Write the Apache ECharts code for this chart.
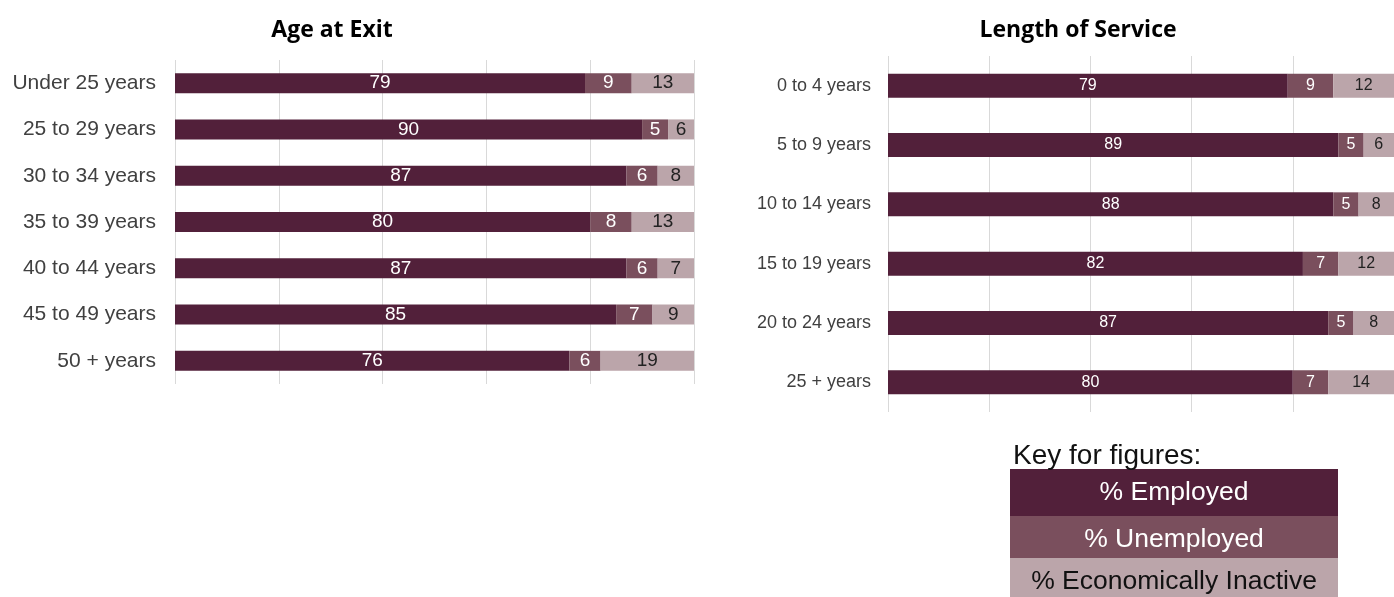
<!DOCTYPE html>
<html><head><meta charset="utf-8">
<script src="https://cdn.jsdelivr.net/npm/echarts@6/dist/echarts.min.js"></script>
<style>html,body{margin:0;padding:0;background:#fff}#c{width:1394px;height:597px}</style>
</head><body><div id="c"></div>
<script>
const ageCategories = ['Under 25 years','25 to 29 years','30 to 34 years','35 to 39 years','40 to 44 years','45 to 49 years','50 + years'];
const ageEmployed   = [79, 90, 87, 80, 87, 85, 76];
const ageUnemployed = [9, 5, 6, 8, 6, 7, 6];
const ageInactive   = [13, 6, 8, 13, 7, 9, 19];

const losCategories = ['0 to 4 years','5 to 9 years','10 to 14 years','15 to 19 years','20 to 24 years','25 + years'];
const losEmployed   = [79, 89, 88, 82, 87, 80];
const losUnemployed = [9, 5, 5, 7, 5, 7];
const losInactive   = [12, 6, 8, 12, 8, 14];

const seriesNames = ['% Employed','% Unemployed','% Economically Inactive'];
const colors = ['#52203A','#7A4F5D','#BBA5AA'];
const labelColors = ['#ffffff','#ffffff','#222222'];

const chart = echarts.init(document.getElementById('c'));

function mkSeries(data, idx, axisIdx, fs, bw) {
  return {
    name: seriesNames[idx], type: 'bar', stack: 's' + axisIdx,
    xAxisIndex: axisIdx, yAxisIndex: axisIdx,
    data: data, barWidth: bw, itemStyle: { color: colors[idx] },
    label: { show: true, position: 'inside', color: labelColors[idx],
      fontFamily: 'Liberation Sans', fontSize: fs },
    silent: true
  };
}

const legendItems = [];
const keyX = 1010, keyW = 328, rowY = [469, 516, 558], rowH = [47, 42, 42];
for (let i = 0; i < 3; i++) {
  legendItems.push({ type: 'rect', shape: { x: keyX, y: rowY[i], width: keyW, height: rowH[i] }, style: { fill: colors[i] } });
  legendItems.push({ type: 'text', x: keyX + keyW / 2, y: rowY[i] + 24, style: { text: seriesNames[i], fill: i < 2 ? '#fff' : '#111', font: '26.5px "Liberation Sans"', align: 'center', verticalAlign: 'middle' } });
}
legendItems.push({ type: 'text', x: 1013, y: 456, style: { text: 'Key for figures:', fill: '#111', font: '28px "Liberation Sans"', align: 'left', verticalAlign: 'middle' } });

chart.setOption({
  animation: false,
  title: [
    { text: 'Age at Exit', left: 327, top: 14, textAlign: 'center', textStyle: { fontFamily: 'Open Sans', fontWeight: 'bold', fontSize: 23, color: '#000' } },
    { text: 'Length of Service', left: 1073, top: 14, textAlign: 'center', textStyle: { fontFamily: 'Open Sans', fontWeight: 'bold', fontSize: 23, color: '#000' } }
  ],
  grid: [
    { left: 175, top: 60, width: 519, height: 324 },
    { left: 888, top: 56, width: 512, height: 356 }
  ],
  xAxis: [0, 1].map(i => ({
    type: 'value', gridIndex: i, min: 0, max: 100, interval: 20,
    axisLabel: { show: false }, axisTick: { show: false }, axisLine: { show: false },
    splitLine: { show: true, lineStyle: { color: '#D9D9D9', width: 1 } }
  })),
  yAxis: [
    { type: 'category', gridIndex: 0, data: ageCategories, inverse: true,
      axisLine: { show: false }, axisTick: { show: false },
      axisLabel: { margin: 19, color: '#404040', fontFamily: 'Liberation Sans', fontSize: 21 } },
    { type: 'category', gridIndex: 1, data: losCategories, inverse: true,
      axisLine: { show: false }, axisTick: { show: false },
      axisLabel: { margin: 17, color: '#404040', fontFamily: 'Liberation Sans', fontSize: 18 } }
  ],
  series: [
    mkSeries(ageEmployed, 0, 0, 19, 20),
    mkSeries(ageUnemployed, 1, 0, 19, 20),
    mkSeries(ageInactive, 2, 0, 19, 20),
    mkSeries(losEmployed, 0, 1, 16, 24),
    mkSeries(losUnemployed, 1, 1, 16, 24),
    mkSeries(losInactive, 2, 1, 16, 24)
  ],
  graphic: legendItems
});
</script></body></html>
